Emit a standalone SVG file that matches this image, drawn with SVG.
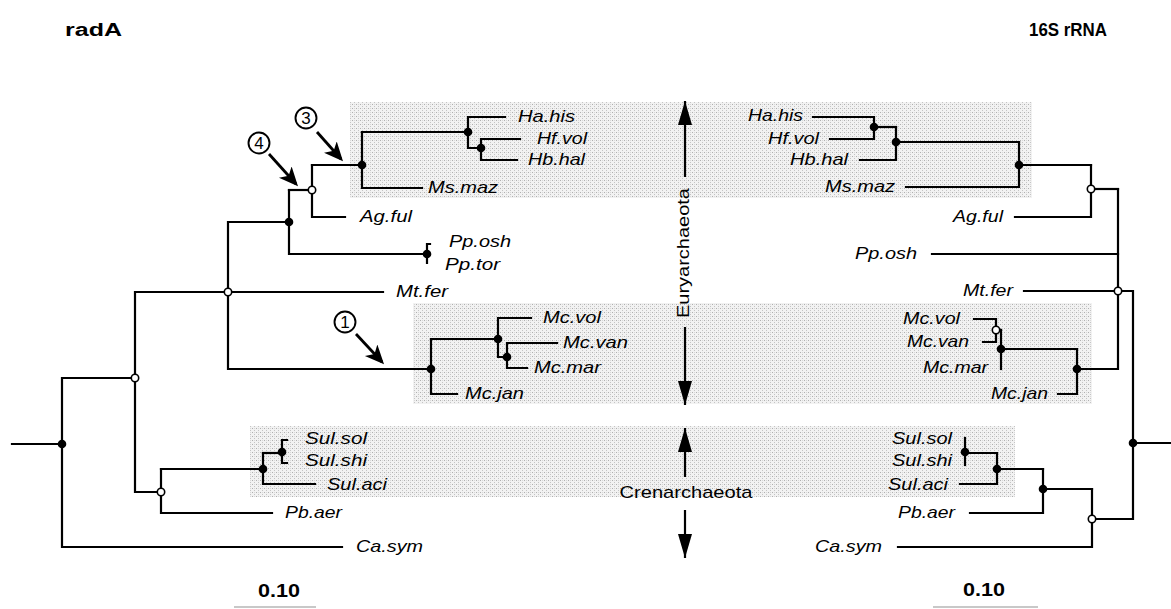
<svg xmlns="http://www.w3.org/2000/svg" width="1171" height="609" viewBox="0 0 1171 609">
<style>
.br{fill:none;stroke:#000;stroke-width:2.2;stroke-linecap:square}
.sp{font-family:"Liberation Sans",Arial,sans-serif;font-style:italic;font-size:17px;fill:#000}
.r{text-anchor:end}
.dot{fill:#000}
.odot{fill:#fff;stroke:#000;stroke-width:1.6}
.ttl{font-family:"Liberation Sans",Arial,sans-serif;font-weight:bold;font-size:18px;fill:#000}
.grp{font-family:"Liberation Sans",Arial,sans-serif;font-size:17px;fill:#000}
.num{font-family:"Liberation Sans",Arial,sans-serif;font-size:17px;fill:#000;text-anchor:middle}
.circ{fill:#fff;stroke:#000;stroke-width:1.9}
.ptr{fill:none;stroke:#000;stroke-width:2.8}
.ax{fill:none;stroke:#000;stroke-width:2.2}
.band{fill:url(#stip)}
.sc{stroke:#c8c8c8;stroke-width:2}
</style>
<defs>
<pattern id="stip" width="4" height="4" patternUnits="userSpaceOnUse">
<rect width="4" height="4" fill="#f2f2f2"/>
<rect x="0" y="0" width="1" height="1" fill="#b0b0b0"/>
<rect x="2" y="2" width="1" height="1" fill="#c4c4c4"/>
<rect x="2" y="0" width="1" height="1" fill="#d8d8d8"/>
</pattern>
<marker id="barb" markerUnits="userSpaceOnUse" markerWidth="20" markerHeight="18" refX="16" refY="8.5" orient="auto">
<path d="M0,0 L19,8.5 L0,17 L5,8.5 Z" fill="#000"/>
</marker>
<marker id="tri" markerUnits="userSpaceOnUse" markerWidth="26" markerHeight="14" refX="24" refY="7" orient="auto">
<path d="M0,0 L24,7 L0,14 Z" fill="#000"/>
</marker>
</defs>
<rect width="1171" height="609" fill="#fff"/>

<g id="bands">
<rect class="band" x="350" y="102" width="682" height="96"/>
<rect class="band" x="413" y="303" width="679" height="101"/>
<rect class="band" x="250" y="426" width="765" height="71"/>
</g>

<g id="titles">
<text class="ttl" x="65" y="36" textLength="57" lengthAdjust="spacingAndGlyphs">radA</text>
<text class="ttl" x="1029" y="36" font-size="19" textLength="78" lengthAdjust="spacingAndGlyphs">16S rRNA</text>
</g>

<g id="connectors">
<!-- left tree -->
<path class="br" d="M12,444 H62"/>
<path class="br" d="M135,378 H62 V547 H342"/>
<path class="br" d="M228,292 H135 V492 H161"/>
<path class="br" d="M161,469 V513 H272"/>
<path class="br" d="M161,469 H263"/>
<path class="br" d="M263,453 V484 H315"/>
<path class="br" d="M263,453 H282"/>
<path class="br" d="M287,440 H282 V463 H287"/>
<path class="br" d="M228,292 H383"/>
<path class="br" d="M289,222 H228 V369 H431"/>
<path class="br" d="M289,190 V254 H427"/>
<path class="br" d="M430,244 H427 V263"/>
<path class="br" d="M312,190 H289"/>
<path class="br" d="M312,165 V217 H345"/>
<path class="br" d="M312,165 H362"/>
<path class="br" d="M362,132 V188 H422"/>
<path class="br" d="M362,132 H468"/>
<path class="br" d="M505,117 H468 V148 H481"/>
<path class="br" d="M520,139 H481 V160 H517"/>
<path class="br" d="M431,339 V394 H457"/>
<path class="br" d="M431,339 H498"/>
<path class="br" d="M531,318 H498 V357 H507"/>
<path class="br" d="M557,343 H507 V368 H527"/>
<!-- right tree -->
<path class="br" d="M1133,443 H1171"/>
<path class="br" d="M1118,291 H1133 V519 H1092"/>
<path class="br" d="M1092,489 V547 H898"/>
<path class="br" d="M1092,489 H1043"/>
<path class="br" d="M1043,469 V513 H970"/>
<path class="br" d="M1043,469 H997"/>
<path class="br" d="M997,453 V484 H960"/>
<path class="br" d="M997,453 H965"/>
<path class="br" d="M965,438 V465"/>
<path class="br" d="M1118,189 V369 H1077"/>
<path class="br" d="M1118,291 H1024"/>
<path class="br" d="M1118,254 H932"/>
<path class="br" d="M1091,189 H1118"/>
<path class="br" d="M1091,165 V217 H1015"/>
<path class="br" d="M1091,165 H1019"/>
<path class="br" d="M1019,142 V187 H906"/>
<path class="br" d="M1019,142 H896"/>
<path class="br" d="M896,127 V160 H860"/>
<path class="br" d="M896,127 H874"/>
<path class="br" d="M830,139 H874 V117 H813"/>
<path class="br" d="M1077,349 V394 H1058"/>
<path class="br" d="M1077,349 H1001"/>
<path class="br" d="M1001,330 V369"/>
<path class="br" d="M974,319 H996 V342 H983"/>
<path class="br" d="M996,330 H1001"/>
<!-- pointer arrows -->
<line class="ptr" x1="317" y1="132" x2="341" y2="159" marker-end="url(#barb)"/>
<line class="ptr" x1="269" y1="154" x2="296" y2="184" marker-end="url(#barb)"/>
<line class="ptr" x1="356" y1="334" x2="382" y2="362" marker-end="url(#barb)"/>
<!-- group axis arrows -->
<line class="ax" x1="685" y1="177" x2="685" y2="101" marker-end="url(#tri)"/>
<line class="ax" x1="685" y1="327" x2="685" y2="405" marker-end="url(#tri)"/>
<line class="ax" x1="685" y1="477" x2="685" y2="428" marker-end="url(#tri)"/>
<line class="ax" x1="685" y1="510" x2="685" y2="558" marker-end="url(#tri)"/>
</g>

<g id="internal-nodes">
<circle class="dot" cx="62" cy="444" r="4.3"/>
<circle class="dot" cx="289" cy="222" r="4.3"/>
<circle class="dot" cx="362" cy="165" r="4.3"/>
<circle class="dot" cx="468" cy="132" r="4.3"/>
<circle class="dot" cx="481" cy="148" r="4.3"/>
<circle class="dot" cx="427" cy="254" r="4.3"/>
<circle class="dot" cx="431" cy="369" r="4.3"/>
<circle class="dot" cx="498" cy="339" r="4.3"/>
<circle class="dot" cx="507" cy="357" r="4.3"/>
<circle class="dot" cx="263" cy="469" r="4.3"/>
<circle class="dot" cx="282" cy="452" r="4.3"/>
<circle class="odot" cx="135" cy="378" r="3.7"/>
<circle class="odot" cx="228" cy="292" r="3.7"/>
<circle class="odot" cx="312" cy="190" r="3.7"/>
<circle class="odot" cx="161" cy="492" r="3.7"/>
<circle class="dot" cx="1133" cy="443" r="4.3"/>
<circle class="dot" cx="1043" cy="489" r="4.3"/>
<circle class="dot" cx="997" cy="469" r="4.3"/>
<circle class="dot" cx="965" cy="452" r="4.3"/>
<circle class="dot" cx="1019" cy="165" r="4.3"/>
<circle class="dot" cx="896" cy="142" r="4.3"/>
<circle class="dot" cx="874" cy="127" r="4.3"/>
<circle class="dot" cx="1077" cy="369" r="4.3"/>
<circle class="dot" cx="1001" cy="349" r="4.3"/>
<circle class="odot" cx="996" cy="330" r="3.7"/>
<circle class="odot" cx="1091" cy="189" r="3.7"/>
<circle class="odot" cx="1118" cy="291" r="3.7"/>
<circle class="odot" cx="1092" cy="519" r="3.7"/>
</g>

<g id="left-leaves">
<g id="L-Ha.his"><text class="sp" x="518" y="122" textLength="57" lengthAdjust="spacingAndGlyphs">Ha.his</text></g>
<g id="L-Hf.vol"><text class="sp" x="537" y="144" textLength="50" lengthAdjust="spacingAndGlyphs">Hf.vol</text></g>
<g id="L-Hb.hal"><text class="sp" x="528" y="165" textLength="57" lengthAdjust="spacingAndGlyphs">Hb.hal</text></g>
<g id="L-Ms.maz"><text class="sp" x="428" y="193" textLength="70" lengthAdjust="spacingAndGlyphs">Ms.maz</text></g>
<g id="L-Ag.ful"><text class="sp" x="360" y="222" textLength="52" lengthAdjust="spacingAndGlyphs">Ag.ful</text></g>
<g id="L-Pp.osh"><text class="sp" x="449" y="247" textLength="62" lengthAdjust="spacingAndGlyphs">Pp.osh</text></g>
<g id="L-Pp.tor"><text class="sp" x="445" y="270" textLength="55" lengthAdjust="spacingAndGlyphs">Pp.tor</text></g>
<g id="L-Mt.fer"><text class="sp" x="396" y="297" textLength="52" lengthAdjust="spacingAndGlyphs">Mt.fer</text></g>
<g id="L-Mc.vol"><text class="sp" x="543" y="323" textLength="58" lengthAdjust="spacingAndGlyphs">Mc.vol</text></g>
<g id="L-Mc.van"><text class="sp" x="563" y="348" textLength="65" lengthAdjust="spacingAndGlyphs">Mc.van</text></g>
<g id="L-Mc.mar"><text class="sp" x="534" y="373" textLength="67" lengthAdjust="spacingAndGlyphs">Mc.mar</text></g>
<g id="L-Mc.jan"><text class="sp" x="465" y="399" textLength="59" lengthAdjust="spacingAndGlyphs">Mc.jan</text></g>
<g id="L-Sul.sol"><text class="sp" x="305" y="444" textLength="62" lengthAdjust="spacingAndGlyphs">Sul.sol</text></g>
<g id="L-Sul.shi"><text class="sp" x="305" y="466" textLength="62" lengthAdjust="spacingAndGlyphs">Sul.shi</text></g>
<g id="L-Sul.aci"><text class="sp" x="327" y="490" textLength="60" lengthAdjust="spacingAndGlyphs">Sul.aci</text></g>
<g id="L-Pb.aer"><text class="sp" x="285" y="518" textLength="57" lengthAdjust="spacingAndGlyphs">Pb.aer</text></g>
<g id="L-Ca.sym"><text class="sp" x="356" y="552" textLength="67" lengthAdjust="spacingAndGlyphs">Ca.sym</text></g>
</g>

<g id="right-leaves">
<g id="R-Ha.his"><text class="sp r" x="803" y="121" textLength="55" lengthAdjust="spacingAndGlyphs">Ha.his</text></g>
<g id="R-Hf.vol"><text class="sp r" x="819" y="144" textLength="51" lengthAdjust="spacingAndGlyphs">Hf.vol</text></g>
<g id="R-Hb.hal"><text class="sp r" x="848" y="165" textLength="58" lengthAdjust="spacingAndGlyphs">Hb.hal</text></g>
<g id="R-Ms.maz"><text class="sp r" x="895" y="192" textLength="70" lengthAdjust="spacingAndGlyphs">Ms.maz</text></g>
<g id="R-Ag.ful"><text class="sp r" x="1003" y="222" textLength="50" lengthAdjust="spacingAndGlyphs">Ag.ful</text></g>
<g id="R-Pp.osh"><text class="sp r" x="917" y="259" textLength="62" lengthAdjust="spacingAndGlyphs">Pp.osh</text></g>
<g id="R-Mt.fer"><text class="sp r" x="1013" y="296" textLength="50" lengthAdjust="spacingAndGlyphs">Mt.fer</text></g>
<g id="R-Mc.vol"><text class="sp r" x="960" y="324" textLength="57" lengthAdjust="spacingAndGlyphs">Mc.vol</text></g>
<g id="R-Mc.van"><text class="sp r" x="969" y="347" textLength="62" lengthAdjust="spacingAndGlyphs">Mc.van</text></g>
<g id="R-Mc.mar"><text class="sp r" x="988" y="373" textLength="65" lengthAdjust="spacingAndGlyphs">Mc.mar</text></g>
<g id="R-Mc.jan"><text class="sp r" x="1048" y="399" textLength="57" lengthAdjust="spacingAndGlyphs">Mc.jan</text></g>
<g id="R-Sul.sol"><text class="sp r" x="952" y="444" textLength="60" lengthAdjust="spacingAndGlyphs">Sul.sol</text></g>
<g id="R-Sul.shi"><text class="sp r" x="952" y="466" textLength="60" lengthAdjust="spacingAndGlyphs">Sul.shi</text></g>
<g id="R-Sul.aci"><text class="sp r" x="948" y="490" textLength="60" lengthAdjust="spacingAndGlyphs">Sul.aci</text></g>
<g id="R-Pb.aer"><text class="sp r" x="955" y="518" textLength="57" lengthAdjust="spacingAndGlyphs">Pb.aer</text></g>
<g id="R-Ca.sym"><text class="sp r" x="882" y="552" textLength="67" lengthAdjust="spacingAndGlyphs">Ca.sym</text></g>
</g>

<g id="markers-numbered">
<g id="m3"><circle class="circ" cx="306" cy="118" r="10.5"/><text class="num" x="306" y="124">3</text></g>
<g id="m4"><circle class="circ" cx="259" cy="143" r="10.5"/><text class="num" x="259" y="149">4</text></g>
<g id="m1"><circle class="circ" cx="345" cy="322" r="10.5"/><text class="num" x="345" y="328">1</text></g>
</g>

<g id="groups">
<g id="euryarchaeota"><text class="grp" x="0" y="0" text-anchor="middle" transform="translate(689,253) rotate(-90)" textLength="130" lengthAdjust="spacingAndGlyphs">Euryarchaeota</text></g>
<g id="crenarchaeota"><text class="grp" x="686" y="498" text-anchor="middle" textLength="133" lengthAdjust="spacingAndGlyphs">Crenarchaeota</text></g>
</g>

<g id="scales">
<g id="scale-left"><text class="ttl" x="258" y="597" textLength="42" lengthAdjust="spacingAndGlyphs">0.10</text><line class="sc" x1="234" y1="607" x2="316" y2="607"/></g>
<g id="scale-right"><text class="ttl" x="963" y="596" textLength="42" lengthAdjust="spacingAndGlyphs">0.10</text><line class="sc" x1="933" y1="607" x2="1038" y2="607"/></g>
</g>
</svg>
